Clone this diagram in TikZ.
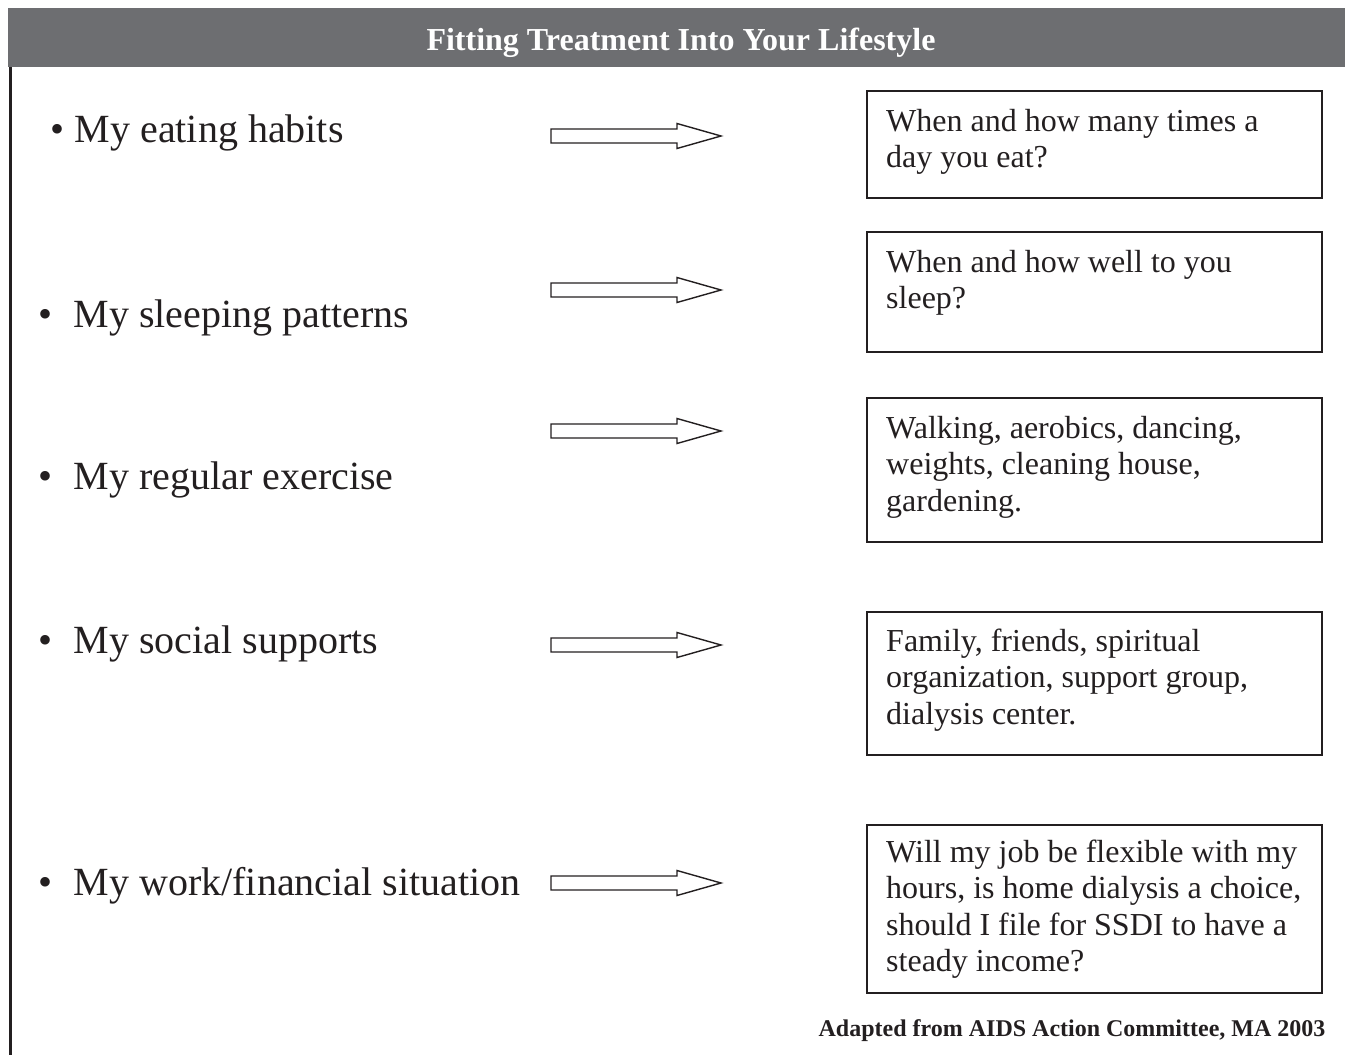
\documentclass[tikz,border=0pt]{standalone}
\usepackage{fontspec}
\setmainfont{Liberation Serif}
\usetikzlibrary{calc}
\definecolor{bargray}{HTML}{6D6E71}
\definecolor{ink}{HTML}{231F20}
\def\blockarrow(#1){\draw[line width=1.4pt, color=ink] ($(#1)+(0,-7)$) -- ++(126,0) -- ++(0,-5.5) -- ++(44,12.5) -- ++(-44,12.5) -- ++(0,-5.5) -- ++(-126,0) -- cycle;}

\begin{document}
\begin{tikzpicture}[x=1pt, y=-1pt,
	item/.style={font=\fontsize{40}{48}\selectfont, text=ink, anchor=base west, inner sep=0},
	answerbox/.style={draw=ink, line width=1.8pt, anchor=north west, minimum width=455pt, inner sep=0},
	answertext/.style={font=\fontsize{32}{36.6}\selectfont, text=ink, anchor=base west, inner sep=0, align=left}]
		%%%%% START %%%%%
		\useasboundingbox (0, 0) rectangle (1345, 1055);
		
		\fill[bargray] (8, 8) rectangle (1345, 67);
		\node[font=\fontsize{32}{36}\selectfont\bfseries, text=white, anchor=base] (title) at (681, 50) {Fitting Treatment Into Your Lifestyle};
		\draw[line width=2.5pt, color=ink] (10.5, 67) -- (10.5, 1055);
		
		\node[item] (i1) at (50.5, 142) {• My eating habits};
		\node[item] (i2) at (38.5, 327) {•\hspace{21pt}My sleeping patterns};
		\node[item] (i3) at (38.5, 489) {•\hspace{21pt}My regular exercise};
		\node[item] (i4) at (38.5, 653) {•\hspace{21pt}My social supports};
		\node[item] (i5) at (38.5, 895) {•\hspace{21pt}My work/financial situation};
		
		\coordinate (a1) at (551, 136);
		\coordinate (a2) at (551, 290);
		\coordinate (a3) at (551, 431);
		\coordinate (a4) at (551, 645);
		\coordinate (a5) at (551, 883);
		\blockarrow(a1);
		\blockarrow(a2);
		\blockarrow(a3);
		\blockarrow(a4);
		\blockarrow(a5);
		
		\node[answerbox, minimum height=107pt] (b1) at (866, 90) {};
		\node[answerbox, minimum height=120pt] (b2) at (866, 231) {};
		\node[answerbox, minimum height=144pt] (b3) at (866, 397) {};
		\node[answerbox, minimum height=143pt] (b4) at (866, 611) {};
		\node[answerbox, minimum height=168pt] (b5) at (866, 824) {};
		
		% base of a multi-line node sits on its last line
		\node[answertext] (t1) at ($(b1.north west)+(20, 41+36.6)$) {When and how many times a\\day you eat?};
		\node[answertext] (t2) at ($(b2.north west)+(20, 41+36.6)$) {When and how well to you\\sleep?};
		\node[answertext] (t3) at ($(b3.north west)+(20, 41+73.2)$) {Walking, aerobics, dancing,\\weights, cleaning house,\\gardening.};
		\node[answertext] (t4) at ($(b4.north west)+(20, 40+73.2)$) {Family, friends, spiritual\\organization, support group,\\dialysis center.};
		\node[answertext] (t5) at ($(b5.north west)+(20, 38+109.8)$) {Will my job be flexible with my\\hours, is home dialysis a choice,\\should I file for SSDI to have a\\steady income?};
		
		\node[font=\fontsize{24}{28}\selectfont\bfseries, text=ink, anchor=base east] (src) at (1329, 1036) {Adapted from AIDS Action Committee, MA 2003};
		%%%%% END %%%%%
\end{tikzpicture}
\end{document}
